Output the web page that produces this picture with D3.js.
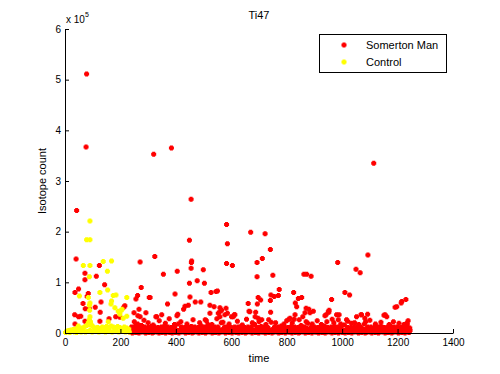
<!DOCTYPE html>
<html>
<head>
<meta charset="utf-8">
<script src="https://cdn.jsdelivr.net/npm/d3@7"></script>
<style>
    body { margin: 0; background: #fff; }
    svg { display: block; font-family: 'Liberation Sans', Arial, sans-serif; }
</style>
</head>
<body>
<svg id="chart"></svg>
<script>
// counts are in units of 1e5 (axis shows "x 10^5")
const xTicks = [0, 200, 400, 600, 800, 1000, 1200, 1400];
const yTicks = [0, 1, 2, 3, 4, 5, 6];
const seriesNames = ['Somerton Man', 'Control'];
const seriesColors = ['#ff0000', '#ffff00'];

// Somerton Man: dense baseline band, read in rows
const smBandZero = [
    [243,0],[255,.01],[267,0],[279,.02],[291,0],[303,.01],[315,0],[327,.02],[339,0],[351,.01],
    [363,0],[375,.02],[387,0],[399,.01],[411,0],[423,.02],[435,0],[447,.01],[459,0],[471,.02],
    [483,0],[495,.01],[507,0],[519,.02],[531,0],[543,.01],[555,0],[567,.02],[579,0],[591,.01],
    [603,0],[615,.02],[627,0],[639,.01],[651,0],[663,.02],[675,0],[687,.01],[699,0],[711,.02],
    [723,0],[735,.01],[747,0],[759,.02],[771,0],[783,.01],[795,0],[807,.02],[819,0],[831,.01],
    [843,0],[855,.02],[867,0],[879,.01],[891,0],[903,.02],[915,0],[927,.01],[939,0],[951,.02],
    [963,0],[975,.01],[987,0],[999,.02],[1011,0],[1023,.01],[1035,0],[1047,.02],[1059,0],[1071,.01],
    [1083,0],[1095,.02],[1107,0],[1119,.01],[1131,0],[1143,.02],[1155,0],[1167,.01],[1179,0],[1191,.02],
    [1203,0],[1215,.01],[1227,0],[1239,.02]
];
const smBandLow = [
    [234,.02],[246,.04],[258,.01],[270,.03],[282,.05],[294,.02],[306,.03],[318,.01],[330,.04],[342,.02],
    [354,.05],[366,.03],[378,.01],[390,.04],[402,.02],[414,.03],[426,.05],[438,.02],[450,.04],[462,.01],
    [474,.03],[486,.05],[498,.02],[510,.04],[522,.03],[534,.01],[546,.05],[558,.02],[570,.04],[582,.03],
    [594,.02],[606,.05],[618,.01],[630,.03],[642,.04],[654,.02],[666,.05],[678,.03],[690,.01],[702,.04],
    [714,.02],[726,.05],[738,.03],[750,.02],[762,.04],[774,.01],[786,.03],[798,.05],[810,.02],[822,.04],
    [834,.03],[846,.01],[858,.05],[870,.02],[882,.04],[894,.03],[906,.02],[918,.05],[930,.01],[942,.03],
    [954,.04],[966,.02],[978,.05],[990,.03],[1002,.01],[1014,.04],[1026,.02],[1038,.05],[1050,.03],[1062,.02],
    [1074,.04],[1086,.01],[1098,.03],[1110,.05],[1122,.02],[1134,.04],[1146,.03],[1158,.01],[1170,.05],[1182,.02],
    [1194,.04],[1206,.03],[1218,.02],[1230,.04],[1242,.01]
];
const smBandMid = [
    [237,.06],[249,.08],[261,.05],[273,.09],[285,.07],[297,.05],[309,.08],[321,.06],[333,.09],[345,.05],
    [357,.07],[369,.08],[381,.06],[393,.09],[405,.05],[417,.07],[429,.08],[441,.06],[453,.09],[465,.05],
    [477,.07],[489,.08],[501,.06],[513,.09],[525,.05],[537,.07],[549,.08],[561,.06],[573,.09],[585,.05],
    [597,.07],[609,.08],[621,.06],[633,.09],[645,.05],[657,.07],[669,.08],[681,.06],[693,.09],[705,.05],
    [717,.07],[729,.08],[741,.06],[753,.09],[765,.05],[777,.07],[789,.08],[801,.06],[813,.09],[825,.05],
    [837,.07],[849,.08],[861,.06],[873,.09],[885,.05],[897,.07],[909,.08],[921,.06],[933,.09],[945,.05],
    [957,.07],[969,.08],[981,.06],[993,.09],[1005,.05],[1017,.07],[1029,.08],[1041,.06],[1053,.09],[1065,.05],
    [1077,.07],[1089,.08],[1101,.06],[1113,.09],[1125,.05],[1137,.07],[1149,.08],[1161,.06],[1173,.09],[1185,.05],
    [1197,.07],[1209,.08],[1221,.06],[1233,.09],[1245,.05]
];
const smBandHigh = [
    [240,.12],[252,.13],[264,.11],[276,.15],[288,.12],[300,.11],[312,.13],[324,.12],[336,.11],[348,.12],
    [360,.14],[372,.12],[384,.11],[396,.12],[408,.18],[420,.12],[432,.11],[444,.12],[456,.13],[468,.12],
    [480,.11],[492,.14],[504,.12],[516,.17],[528,.11],[540,.12],[552,.12],[564,.20],[576,.12],[588,.13],
    [600,.11],[612,.12],[624,.12],[636,.14],[648,.11],[660,.12],[672,.12],[684,.17],[696,.11],[708,.13],
    [720,.12],[732,.11],[744,.21],[756,.12],[768,.12],[780,.14],[792,.12],[804,.11],[816,.13],[828,.12],
    [840,.11],[852,.15],[864,.12],[876,.19],[888,.12],[900,.12],[912,.11],[924,.12],[936,.14],[948,.11],
    [960,.12],[972,.13],[984,.12],[996,.12],[1008,.16],[1020,.11],[1032,.12],[1044,.11],[1056,.13],[1068,.12],
    [1080,.18],[1092,.12],[1104,.12],[1116,.11],[1128,.12],[1140,.14],[1152,.11],[1164,.12],[1176,.13],[1188,.12],
    [1200,.12],[1212,.11],[1224,.12],[1236,.12],[1244,.10]
];
// Somerton Man: ragged top of the band
const smBandSpikes = [
    [250,.22],[262,.18],[285,.25],[300,.20],[318,.16],[340,.24],[362,.19],[376,.28],[395,.17],[418,.22],
    [440,.18],[462,.26],[486,.20],[510,.24],[530,.17],[548,.28],[570,.21],[592,.18],[622,.23],[640,.16],
    [655,.27],[676,.20],[700,.22],[725,.17],[735,.26],[760,.20],[790,.18],[800,.24],[820,.20],[845,.26],
    [870,.22],[892,.18],[910,.24],[925,.17],[945,.22],[970,.20],[995,.18],[1020,.23],[1045,.20],[1060,.17],
    [1085,.22],[1100,.25],[1120,.18],[1140,.21],[1170,.17],[1185,.22],[1205,.19],[1238,.24]
];
// Somerton Man: scattered peaks
const smPeaks = [
    [78,5.11],[76,3.67],[320,3.53],[384,3.65],[1114,3.35],[42,2.42],[40,1.46],
    [455,2.64],[583,2.14],[586,1.76],[449,1.83],[324,1.51],[457,1.42],[456,1.39],[455,1.28],[583,1.37],
    [604,1.33],[355,1.16],[405,1.22],[499,1.25],[449,0.98],[477,1.03],[503,0.98],[307,0.70],[397,0.77],
    [451,0.71],[370,0.57],[470,0.61],[490,0.61],[527,0.80],[545,0.82],[550,0.83],[433,0.53],[445,0.55],
    [428,0.47],[407,0.37],[404,0.34],[331,0.32],[349,0.36],[523,0.55],[538,0.52],[559,0.50],[565,0.45],
    [581,0.49],[586,0.39],[559,0.32],[553,0.39],[611,0.36],[607,0.32],[292,0.40],[506,0.26],
    [271,1.40],[124,1.33],[72,1.18],[113,1.12],[72,1.05],[143,0.95],[49,0.87],[36,0.80],[275,0.90],
    [84,0.78],[80,0.72],[130,0.61],[65,0.58],[262,0.74],[256,0.67],[304,0.70],[73,0.48],[88,0.48],
    [109,0.51],[216,0.54],[212,0.51],[35,0.36],[49,0.32],[57,0.33],[127,0.41],[159,0.28],[183,0.32],
    [198,0.31],[267,0.47],[263,0.34],[72,0.23],[126,0.23],[36,0.18],[249,0.40],[271,0.32],[328,0.32],
    [670,1.99],[722,1.96],[741,1.65],[712,1.47],[693,1.39],[693,1.11],[750,1.14],[862,1.16],[872,1.16],
    [888,1.12],[773,0.86],[825,0.80],[743,0.75],[755,0.72],[770,0.74],[697,0.70],[706,0.65],[661,0.58],
    [694,0.57],[741,0.64],[842,0.68],[854,0.70],[831,0.59],[836,0.52],[664,0.43],[688,0.41],[742,0.41],
    [613,0.36],[870,0.49],[880,0.47],[896,0.43],[884,0.40],[808,0.27],[827,0.27],[938,0.34],[950,0.42],
    [1093,1.54],[984,1.39],[1050,1.26],[1065,1.19],[1010,0.80],[1027,0.75],[962,0.66],[1230,0.66],
    [1213,0.59],[1191,0.51],[952,0.41],[989,0.36],[1068,0.36],[1092,0.37],[1151,0.35],[1161,0.32],
    [964,0.27],[1223,0.17],[1235,0.18],[523,0.39],[559,0.42],[577,0.36],[601,0.32],[667,0.42],[686,0.32],
    [697,0.29],[710,0.26],[812,0.29],[858,0.32],[866,0.40],[830,0.36],[942,0.36],[953,0.45],[980,0.36],
    [986,0.26],[1016,0.26],[1034,0.19],[1052,0.32],[1070,0.36],[1082,0.29],[1155,0.36],[1197,0.52],
    [1215,0.62],[1227,0.16],[1233,0.19]
];

// Control: dense baseline band
const ctBandLow = [
    [2,.01],[10,.02],[18,.01],[26,.03],[34,.02],[42,.01],[50,.03],[58,.02],[66,.04],[74,.02],
    [82,.03],[90,.05],[98,.02],[106,.04],[114,.03],[122,.02],[130,.04],[138,.03],[146,.02],[154,.05],
    [162,.03],[170,.02],[178,.04],[186,.03],[194,.02],[202,.04],[210,.03],[218,.02],[226,.04],[232,.02]
];
const ctBandHigh = [
    [6,.04],[14,.05],[22,.06],[30,.07],[38,.08],[46,.09],[54,.08],[62,.10],[70,.12],[78,.15],
    [84,.20],[88,.26],[92,.22],[96,.16],[102,.12],[110,.10],[118,.11],[126,.09],[134,.12],[142,.10],
    [150,.13],[158,.11],[166,.14],[174,.12],[182,.10],[190,.13],[198,.11],[206,.09],[214,.12],[222,.10],
    [230,.08]
];
// Control: scattered peaks
const ctPeaks = [
    [90,2.21],[78,1.84],[90,1.84],[66,1.33],[90,1.33],[138,1.41],[168,1.42],[153,1.22],[88,1.11],
    [126,0.80],[184,0.75],[52,0.73],[84,0.70],[154,0.85],[90,0.59],[88,0.55],[168,0.63],[180,0.50],
    [223,0.70],[202,0.44],[210,0.29],[90,0.32],[198,0.37],[156,0.22],[48,0.14],[90,0.16],[174,0.74],
    [166,0.57],[206,0.47],[192,0.43],[223,0.33],[89,0.45]
];

const margin = { top: 29, right: 47, bottom: 41, left: 65 };
const W = 500, H = 374;
const width = W - margin.left - margin.right;
const height = H - margin.top - margin.bottom;

const x = d3.scaleLinear().domain([0, 1400]).range([0, width]);
const y = d3.scaleLinear().domain([0, 6]).range([height, 0]);

const svg = d3.select('#chart').attr('width', W).attr('height', H);
const g = svg.append('g')
    .attr('transform', 'translate(' + margin.left + ',' + margin.top + ')');

// small filled marker like MATLAB's point marker
const marker = 'M-1.5,-2.5h3v1h1v3h-1v1h-3v-1h-1v-3h1z';

function drawPoints(data, color) {
    g.append('g')
        .selectAll('path')
        .data(data)
        .join('path')
        .attr('d', marker)
        .attr('fill', color)
        .attr('transform', d => 'translate(' + x(d[0]) + ',' + y(d[1]) + ')');
}

drawPoints(smBandZero.concat(smBandLow, smBandMid, smBandHigh, smBandSpikes, smPeaks), seriesColors[0]);
drawPoints(ctBandLow.concat(ctBandHigh, ctPeaks), seriesColors[1]);

// axes, ticks inward
const xAxis = d3.axisBottom(x).tickValues(xTicks).tickFormat(d => d)
    .tickSizeInner(-4).tickSizeOuter(0).tickPadding(6);
const yAxis = d3.axisLeft(y).tickValues(yTicks).tickFormat(d => d)
    .tickSizeInner(-4).tickSizeOuter(0).tickPadding(4);

const xg = g.append('g').attr('transform', 'translate(0,' + height + ')').call(xAxis);
const yg = g.append('g').call(yAxis);

[xg, yg].forEach(a => {
    a.attr('font-family', null).attr('font-size', 10);
    a.selectAll('path, line').attr('stroke', '#000');
    a.selectAll('text').attr('fill', '#000');
});

// exponent label
const expo = svg.append('text')
    .attr('x', 66)
    .attr('y', 23)
    .attr('font-size', 10);
expo.append('tspan').text('x 10');
expo.append('tspan').attr('dy', -6).attr('font-size', 7).text('5');

// title and axis labels
svg.append('text')
    .attr('x', margin.left + width / 2)
    .attr('y', 19)
    .attr('text-anchor', 'middle')
    .attr('font-size', 11)
    .text('Ti47');

svg.append('text')
    .attr('x', margin.left + width / 2)
    .attr('y', 362)
    .attr('text-anchor', 'middle')
    .attr('font-size', 11)
    .text('time');

svg.append('text')
    .attr('transform', 'translate(46,' + (margin.top + height / 2) + ') rotate(-90)')
    .attr('text-anchor', 'middle')
    .attr('font-size', 11)
    .text('Isotope count');

// legend
const legend = svg.append('g').attr('transform', 'translate(319,34)');
legend.append('rect')
    .attr('x', 0.5).attr('y', 0.5)
    .attr('width', 127).attr('height', 38)
    .attr('fill', '#fff')
    .attr('stroke', '#000');

seriesNames.forEach((name, i) => {
    legend.append('path')
        .attr('d', marker)
        .attr('fill', seriesColors[i])
        .attr('transform', 'translate(25,' + (11 + i * 17) + ')');
    legend.append('text')
        .attr('x', 47)
        .attr('y', 15 + i * 17)
        .attr('font-size', 11)
        .text(name);
});
</script>
</body>
</html>
